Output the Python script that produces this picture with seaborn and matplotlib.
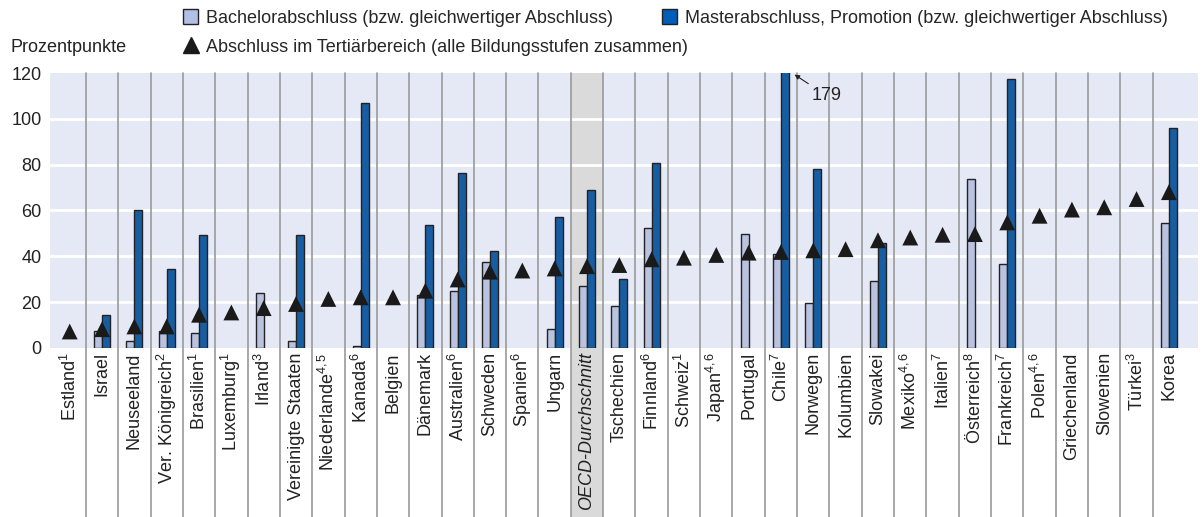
import numpy as np
import pandas as pd
import matplotlib
matplotlib.use("Agg")
import matplotlib.pyplot as plt
import matplotlib.transforms as mtransforms
from matplotlib.patches import Rectangle, Patch
from matplotlib.lines import Line2D
import seaborn as sns

nan = np.nan
countries = ["Estland¹", "Israel", "Neuseeland", "Ver. Königreich²", "Brasilien¹",
             "Luxemburg¹", "Irland³", "Vereinigte Staaten", "Niederlande⁴,⁵", "Kanada⁶",
             "Belgien", "Dänemark", "Australien⁶", "Schweden", "Spanien⁶", "Ungarn",
             "OECD-Durchschnitt", "Tschechien", "Finnland⁶", "Schweiz¹", "Japan⁴,⁶",
             "Portugal", "Chile⁷", "Norwegen", "Kolumbien", "Slowakei", "Mexiko⁴,⁶",
             "Italien⁷", "Österreich⁸", "Frankreich⁷", "Polen⁴,⁶", "Griechenland",
             "Slowenien", "Türkei³", "Korea"]
bachelor = [nan, 7.5, 3.2, 7.5, 6.4, nan, 24, 3.1, nan, 1, nan, 23.3, 24.8, 37.5, nan,
            8.1, 27, 18.2, 52.3, nan, nan, 49.7, 41.2, 19.6, nan, 29.4, nan, nan, 73.7,
            36.5, nan, nan, nan, nan, 54.5]
master = [nan, 14.4, 60.2, 34.4, 49.4, nan, nan, 49.4, nan, 106.8, nan, 53.8, 76.5, 42.2,
          nan, 57.1, 68.9, 30.2, 80.9, nan, nan, nan, 179, 77.9, nan, 45.6, nan, nan, nan,
          117.4, nan, nan, nan, nan, 96.1]
tertiary = [7.2, 8.2, 9.4, 9.4, 14.5, 15.5, 17.4, 19.2, 21.4, 22.1, 22.1, 25, 29.9, 33.3,
            33.8, 34.7, 35.7, 36.2, 38.7, 39.4, 40.6, 41.6, 41.9, 42.6, 43.1, 47, 48.2,
            49.4, 49.7, 54.8, 57.7, 60.4, 61.4, 65, 68]
yticks = [0, 20, 40, 60, 80, 100, 120]
lab_b = "Bachelorabschluss (bzw. gleichwertiger Abschluss)"
lab_m = "Masterabschluss, Promotion (bzw. gleichwertiger Abschluss)"
lab_t = "Abschluss im Tertiärbereich (alle Bildungsstufen zusammen)"
highlight = "OECD-Durchschnitt"
outlier = "Chile⁷"

C_B = "#b3c0e6"
C_M = "#005db8"
BG = "#e5e8f5"
SEP = "#9a9a9a"

sns.set_theme(style="white")
plt.rcParams["font.family"] = ["Liberation Sans", "DejaVu Sans"]
plt.rcParams["mathtext.fontset"] = "custom"
plt.rcParams["mathtext.rm"] = "Liberation Sans"
plt.rcParams["mathtext.it"] = "Liberation Sans:italic"
plt.rcParams["mathtext.default"] = "regular"
FS = 13

SUP = {"¹": "1", "²": "2", "³": "3", "⁴": "4", "⁵": "5", "⁶": "6", "⁷": "7", "⁸": "8"}


def display_label(s):
    base = s.rstrip("¹²³⁴⁵⁶⁷⁸,")
    tail = s[len(base):]
    if not tail:
        return s
    sup = "".join(SUP.get(c, c) for c in tail)
    return base + r"$^{" + sup + "}$"


df = pd.DataFrame({
    "Land": countries * 2,
    "Wert": bachelor + master,
    "Typ": [lab_b] * len(countries) + [lab_m] * len(countries),
})

fig = plt.figure(figsize=(12.02, 5.17), dpi=100)
ax = fig.add_axes([0.0416, 0.3269, 0.9548, 0.5319])
ax.set_facecolor(BG)

n = len(countries)
pos = np.arange(n)
hi = countries.index(highlight)

trans = mtransforms.blended_transform_factory(ax.transData, ax.transAxes)
ax.add_patch(Rectangle((hi - 0.5, -0.62), 1.0, 1.62, transform=trans,
                       facecolor="#dadada", edgecolor="none", clip_on=False, zorder=0.5))

for yv in yticks[1:-1]:
    ax.axhline(yv, color="white", lw=2, zorder=0.8)

for i in range(n - 1):
    ax.add_line(Line2D([i + 0.5, i + 0.5], [-0.62, 1.0], transform=trans,
                       color=SEP, lw=1.2, clip_on=False, zorder=1))

sns.barplot(data=df, x="Land", y="Wert", hue="Typ", order=countries,
            hue_order=[lab_b, lab_m], palette=[C_B, C_M], width=0.5,
            edgecolor="#222222", linewidth=1, errorbar=None, legend=False,
            ax=ax, zorder=2)

sns.scatterplot(x=pos, y=tertiary, marker="^", s=130, color="#1a1a1a",
                edgecolor="none", ax=ax, zorder=3, legend=False)

ax.set_ylim(0, 120)
ax.set_xlim(-0.61, n - 0.11)
ax.set_yticks(yticks)
ax.set_yticklabels([str(v) for v in yticks], fontsize=FS, color="#222222")
ax.set_xticks(pos)
ax.set_xticklabels([display_label(c) for c in countries], rotation=90, fontsize=FS,
                   color="#222222", va="top", ha="center")
for t, c in zip(ax.get_xticklabels(), countries):
    if c == highlight:
        t.set_fontstyle("italic")
ax.tick_params(axis="both", length=0)
ax.tick_params(axis="x", pad=3)
ax.tick_params(axis="y", pad=6)
ax.set_xlabel("")
ax.set_ylabel("")
for s in ax.spines.values():
    s.set_visible(False)
ax.grid(False)

ci = countries.index(outlier)
ax.annotate(f"{master[ci]:.0f}", xy=(ci + 0.42, 119.3), xytext=(12, -15),
            textcoords="offset points", fontsize=FS, ha="left", va="center",
            color="#222222",
            arrowprops=dict(arrowstyle="-|>", lw=0.8, color="#222222",
                            mutation_scale=7, shrinkA=0, shrinkB=0))

fig.text(10 / 1202, 1 - 47 / 517, "Prozentpunkte", fontsize=FS, ha="left",
         va="center", color="#222222")

common = dict(frameon=False, fontsize=FS, borderpad=0, borderaxespad=0,
              handletextpad=0.45, loc="center left")
h_b = Patch(facecolor=C_B, edgecolor="#222222", linewidth=1)
h_m = Patch(facecolor=C_M, edgecolor="#222222", linewidth=1)
h_t = Line2D([], [], marker="^", color="#1a1a1a", linestyle="none", markersize=11)
fig.legend([h_b], [lab_b], bbox_to_anchor=(183 / 1202, 1 - 18 / 517),
           handlelength=0.85, handleheight=0.85, **common)
fig.legend([h_m], [lab_m], bbox_to_anchor=(662 / 1202, 1 - 18 / 517),
           handlelength=0.85, handleheight=0.85, **common)
fig.legend([h_t], [lab_t], bbox_to_anchor=(183 / 1202, 1 - 47 / 517),
           handlelength=0.85, handleheight=0.85, **common)

fig.savefig("out.png", dpi=100, facecolor="white")
